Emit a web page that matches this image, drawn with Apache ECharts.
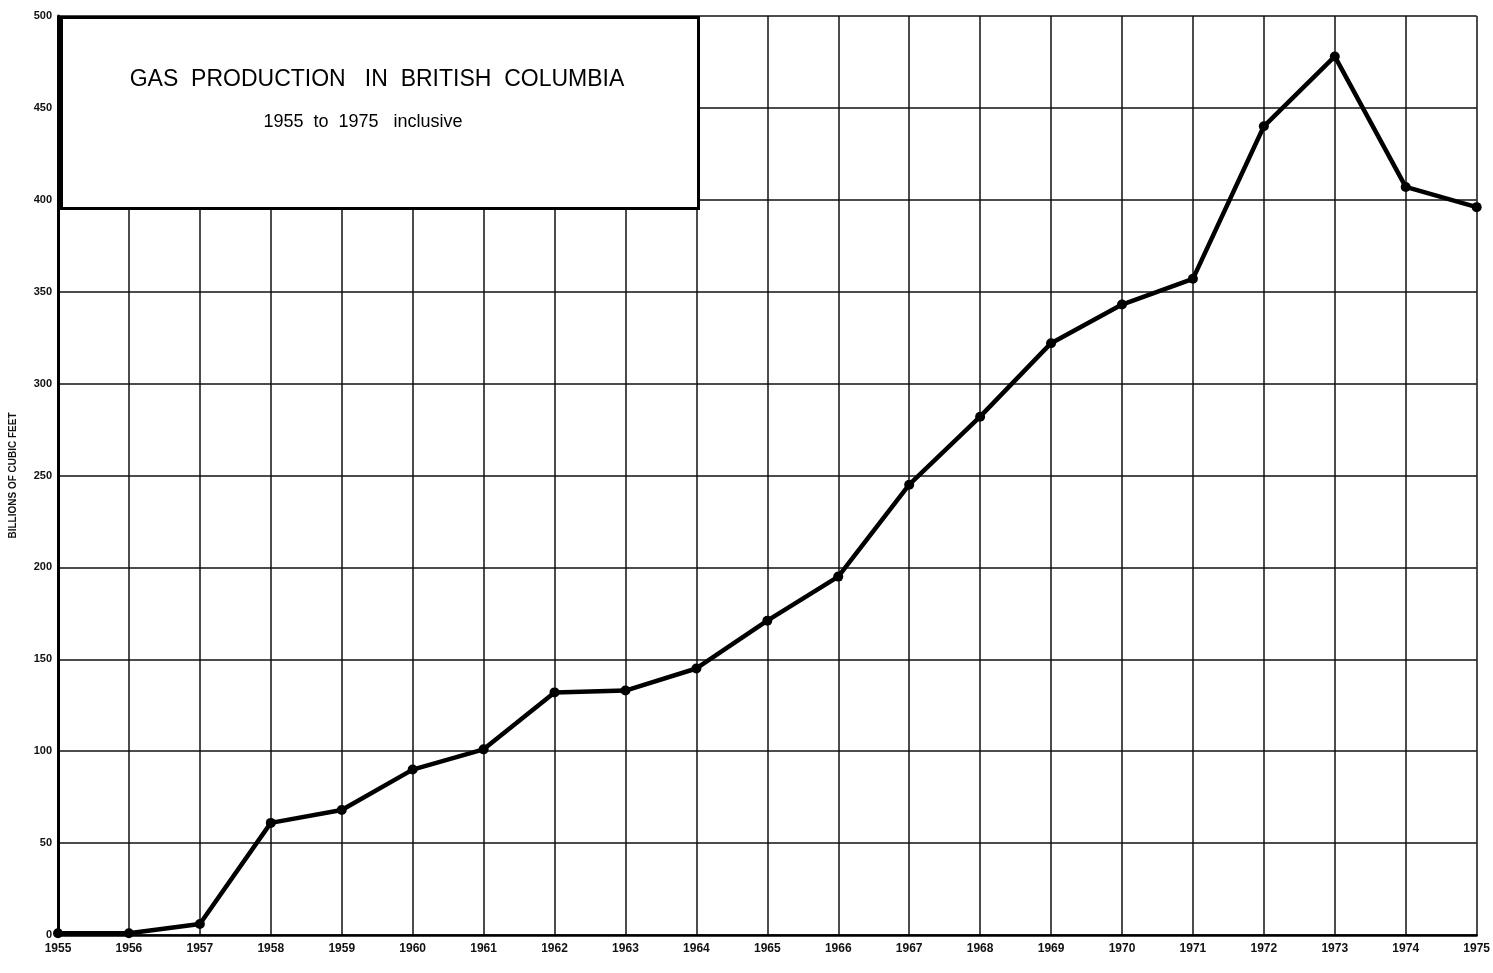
<!DOCTYPE html>
<html>
<head>
<meta charset="utf-8">
<script src="https://cdn.jsdelivr.net/npm/echarts@6/dist/echarts.min.js"></script>
<style>
  html, body { margin: 0; padding: 0; background: #fff; }
  #chart { width: 1493px; height: 973px; }
</style>
</head>
<body>
<div id="chart"></div>
<script>
// years along the bottom
var years = ['1955', '1956', '1957', '1958', '1959', '1960', '1961', '1962', '1963', '1964',
  '1965', '1966', '1967', '1968', '1969', '1970', '1971', '1972', '1973', '1974', '1975'];
// billions of cubic feet
var production = [1, 1, 6, 61, 68, 90, 101, 132, 133, 145,
  171, 195, 245, 282, 322, 343, 357, 440, 478, 407, 396];
var yTicks = [0, 50, 100, 150, 200, 250, 300, 350, 400, 450, 500];

var chart = echarts.init(document.getElementById('chart'));

var option = {
  backgroundColor: '#fff',
  animation: false,
  grid: {
    left: 58,
    right: 13,
    top: 16,
    bottom: 38
  },
  xAxis: {
    type: 'category',
    boundaryGap: false,
    data: years,
    axisLine: { lineStyle: { color: '#000', width: 2.5 } },
    axisTick: { show: false },
    axisLabel: {
      color: '#111',
      fontFamily: 'Liberation Sans',
      fontWeight: 'bold',
      fontSize: 12,
      margin: 8
    },
    splitLine: { show: true, lineStyle: { color: '#111', width: 1.5 } }
  },
  yAxis: {
    type: 'value',
    min: 0,
    max: 500,
    interval: 50,
    name: 'BILLIONS OF CUBIC FEET',
    nameLocation: 'middle',
    nameGap: 40,
    nameRotate: 90,
    nameTextStyle: {
      color: '#111',
      fontFamily: 'Liberation Sans',
      fontWeight: 'bold',
      fontSize: 10
    },
    axisLine: { show: true, lineStyle: { color: '#000', width: 3 } },
    axisTick: { show: false },
    axisLabel: {
      color: '#111',
      fontFamily: 'Liberation Sans',
      fontWeight: 'bold',
      fontSize: 11,
      margin: 6,
      formatter: function (v) {
        return yTicks.indexOf(v) >= 0 ? String(v) : '';
      }
    },
    splitLine: { show: true, lineStyle: { color: '#111', width: 1.5 } }
  },
  series: [{
    name: 'Gas production',
    type: 'line',
    data: production,
    symbol: 'circle',
    symbolSize: 10,
    itemStyle: { color: '#000' },
    lineStyle: { color: '#000', width: 4.5 },
    z: 5
  }],
  graphic: [
    {
      type: 'rect',
      left: 60,
      top: 16,
      shape: { width: 637, height: 191 },
      style: { fill: '#fff', stroke: '#000', lineWidth: 3 },
      z: 10
    },
    {
      type: 'text',
      x: 377,
      y: 80,
      style: {
        text: 'GAS  PRODUCTION   IN  BRITISH  COLUMBIA',
        fill: '#000',
        fontFamily: 'Liberation Sans',
        fontSize: 23,
        align: 'center',
        verticalAlign: 'middle'
      },
      z: 11
    },
    {
      type: 'text',
      x: 363,
      y: 122,
      style: {
        text: '1955  to  1975   inclusive',
        fill: '#000',
        fontFamily: 'Liberation Sans',
        fontSize: 18,
        align: 'center',
        verticalAlign: 'middle'
      },
      z: 11
    }
  ]
};

chart.setOption(option);
</script>
</body>
</html>
